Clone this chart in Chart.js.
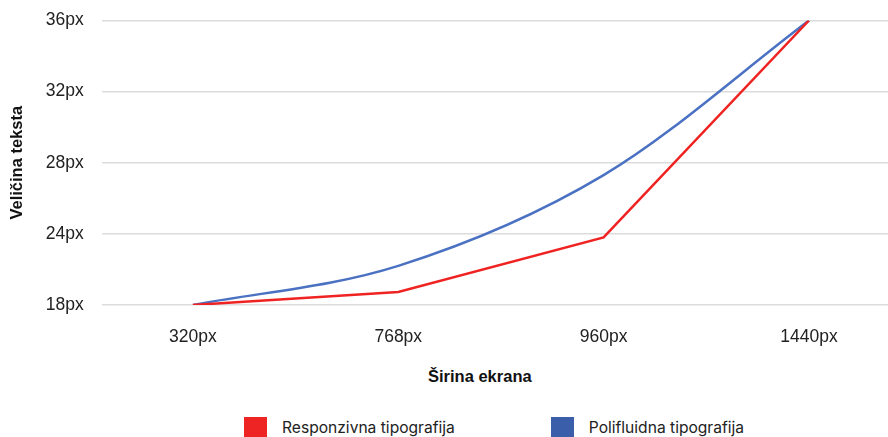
<!DOCTYPE html>
<html>
<head>
<meta charset="utf-8">
<script src="https://cdn.jsdelivr.net/npm/chart.js@4"></script>
<style>
  html, body { margin: 0; padding: 0; background: #fff; overflow: hidden; }
  #wrap { position: relative; width: 888px; height: 437px; }
  #chartBox { position: relative; top: -8px; width: 888px; height: 370px; }
  #xTitle { position: absolute; left: 428px; top: 366px; line-height: 20px;
            font-family: "Liberation Sans", Arial, sans-serif; font-size: 16.5px; font-weight: bold; color: #111; }
  #legend { position: absolute; left: 244px; top: 417px; display: flex; gap: 96px;
            font-family: Inter, sans-serif; font-size: 15.6px; color: #222; }
  #legend .item { display: flex; align-items: center; }
  #legend .box { width: 23px; height: 20px; margin-right: 15px; }
</style>
</head>
<body>
<div id="wrap">
  <div id="chartBox"><canvas id="myChart"></canvas></div>
  <div id="xTitle"></div>
  <div id="legend"></div>
</div>
<script>
// Podaci
const screenWidths = ['320px', '768px', '960px', '1440px'];
const sizeTicks = [18, 24, 28, 32, 36];
const responsiveSizes = [18, 19.1, 23.7, 36];
const polyfluidSizes = [18, 21.3, 27.3, 36];
const xTitle = 'Širina ekrana';
const yTitle = 'Veličina teksta';

// y os ima jednake razmake izmedju nejednakih vrijednosti (18, 24, 28, 32, 36)
function toAxis(v) {
    for (let i = 0; i < sizeTicks.length - 1; i++) {
        if (v <= sizeTicks[i + 1]) {
            return i + (v - sizeTicks[i]) / (sizeTicks[i + 1] - sizeTicks[i]);
        }
    }
    return sizeTicks.length - 1;
}

function points(values) {
    return values.map((v, i) => ({ x: i, y: toAxis(v) }));
}

const tickFont = { family: '"Liberation Sans", Arial, sans-serif', size: 17.5 };
const titleFont = { family: '"Liberation Sans", Arial, sans-serif', size: 16.5, weight: 'bold' };

var ctx = document.getElementById('myChart').getContext('2d');
var myChart = new Chart(ctx, {
    type: 'line',
    data: {
        datasets: [{
            label: 'Responzivna tipografija',
            data: points(responsiveSizes),
            borderColor: '#f02323',
            backgroundColor: '#ee2424',
            borderWidth: 2.5,
            pointRadius: 0,
            tension: 0
        }, {
            label: 'Polifluidna tipografija',
            data: points(polyfluidSizes),
            borderColor: '#4a71c2',
            backgroundColor: '#3b5eab',
            borderWidth: 2.5,
            pointRadius: 0,
            cubicInterpolationMode: 'monotone'
        }]
    },
    options: {
        responsive: true,
        maintainAspectRatio: false,
        animation: false,
        layout: { padding: { top: 2, left: 8, right: 0, bottom: 0 } },
        plugins: {
            tooltip: { enabled: false },
            legend: { display: false }
        },
        scales: {
            x: {
                type: 'linear',
                min: -0.444,
                max: 3.385,
                afterBuildTicks: scale => {
                    scale.ticks = screenWidths.map((w, i) => ({ value: i }));
                },
                grid: { display: false },
                border: { display: false },
                ticks: {
                    padding: 14,
                    color: '#222',
                    font: tickFont,
                    callback: v => screenWidths[v]
                }
            },
            y: {
                type: 'linear',
                min: 0,
                max: sizeTicks.length - 1,
                afterBuildTicks: scale => {
                    scale.ticks = sizeTicks.map((s, i) => ({ value: i }));
                },
                grid: { color: '#dcdcdc', lineWidth: 1.5, drawTicks: false },
                border: { display: false },
                ticks: {
                    padding: 18,
                    color: '#222',
                    font: tickFont,
                    callback: v => sizeTicks[v] + 'px'
                },
                title: {
                    display: true,
                    text: yTitle,
                    color: '#111',
                    font: titleFont,
                    padding: 0
                }
            }
        }
    }
});

// naslov x osi i legenda ispod grafikona
document.getElementById('xTitle').textContent = xTitle;

const legendEl = document.getElementById('legend');
myChart.data.datasets.forEach(ds => {
    const item = document.createElement('div');
    item.className = 'item';
    const box = document.createElement('span');
    box.className = 'box';
    box.style.background = ds.backgroundColor;
    const label = document.createElement('span');
    label.textContent = ds.label;
    item.appendChild(box);
    item.appendChild(label);
    legendEl.appendChild(item);
});
</script>
</body>
</html>
